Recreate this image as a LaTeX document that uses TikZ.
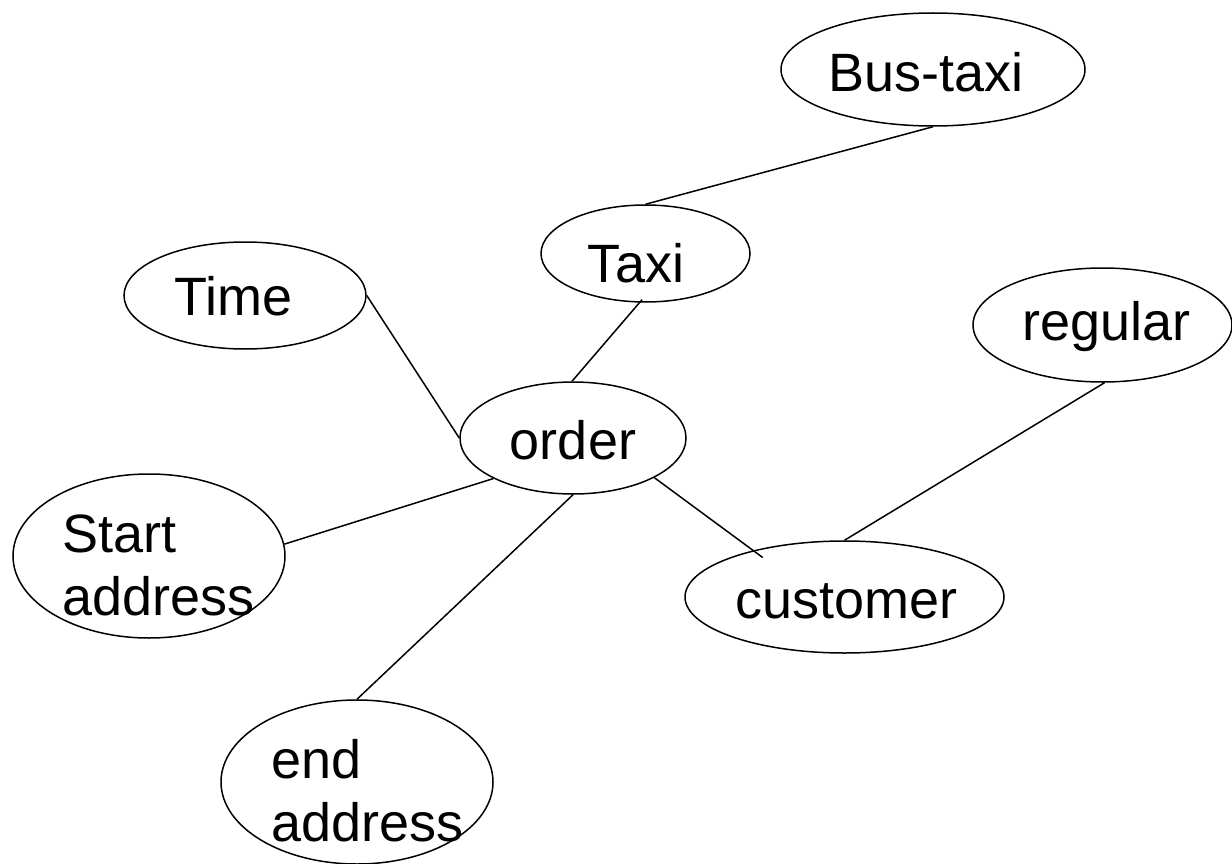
\documentclass[tikz,border=0pt]{standalone}
\usepackage{fontspec}
\setmainfont{Liberation Sans}
\usetikzlibrary{shapes.geometric}

\tikzset{
  oval/.style={draw, ellipse, line width=1.5pt, inner sep=0pt},
  txt/.style={inner sep=0pt, anchor=base, font=\fontsize{54}{63.5}\selectfont},
  link/.style={line width=1.5pt},
}

\begin{document}
\begin{tikzpicture}[x=1pt, y=-1pt]
\useasboundingbox (0,0) rectangle (1232,864);

% ellipses
\node[oval, minimum width=304pt, minimum height=113pt] (bus)      at (933,69.5)   {};
\node[oval, minimum width=209pt, minimum height=97pt]  (taxi)     at (645.5,253.5) {};
\node[oval, minimum width=242pt, minimum height=107pt] (time)     at (245,295.5)  {};
\node[oval, minimum width=259pt, minimum height=114pt] (regular)  at (1102.5,325) {};
\node[oval, minimum width=226pt, minimum height=112pt] (order)    at (573,438)    {};
\node[oval, minimum width=272pt, minimum height=164pt] (start)    at (149,556)    {};
\node[oval, minimum width=319pt, minimum height=112pt] (customer) at (844.5,597)  {};
\node[oval, minimum width=272pt, minimum height=164pt] (end)      at (357,782)    {};

% labels
\node[txt] (bus-t)      at (926,92)    {Bus-taxi};
\node[txt] (taxi-t)     at (636,282)   {Taxi};
\node[txt] (time-t)     at (233.5,315) {Time};
\node[txt] (regular-t)  at (1106.5,340) {regular};
\node[txt] (order-t)    at (573,459)   {order};
\node[txt] (customer-t) at (846.5,618) {customer};
\node[txt, anchor=base west] (start-t) at (62,552)
  {\begin{tabular}[t]{@{}l@{}}Start\\address\end{tabular}};
\node[txt, anchor=base west] (end-t) at (271,778)
  {\begin{tabular}[t]{@{}l@{}}end\\address\end{tabular}};

% connectors
\draw[link] (bus.south) -- (taxi.north);
\draw[link, shorten <=-4pt] (taxi.-97) -- (order.91);
\draw[link] (time.0) -- (order.180);
\draw[link] (order.-153.7) -- (start.5.5);
\draw[link] (order.south) -- (end.north);
\draw[link, shorten >=-12pt] (order.-26.6) -- (customer.153);
\draw[link] (customer.north) -- (regular.-88);
\end{tikzpicture}
\end{document}
